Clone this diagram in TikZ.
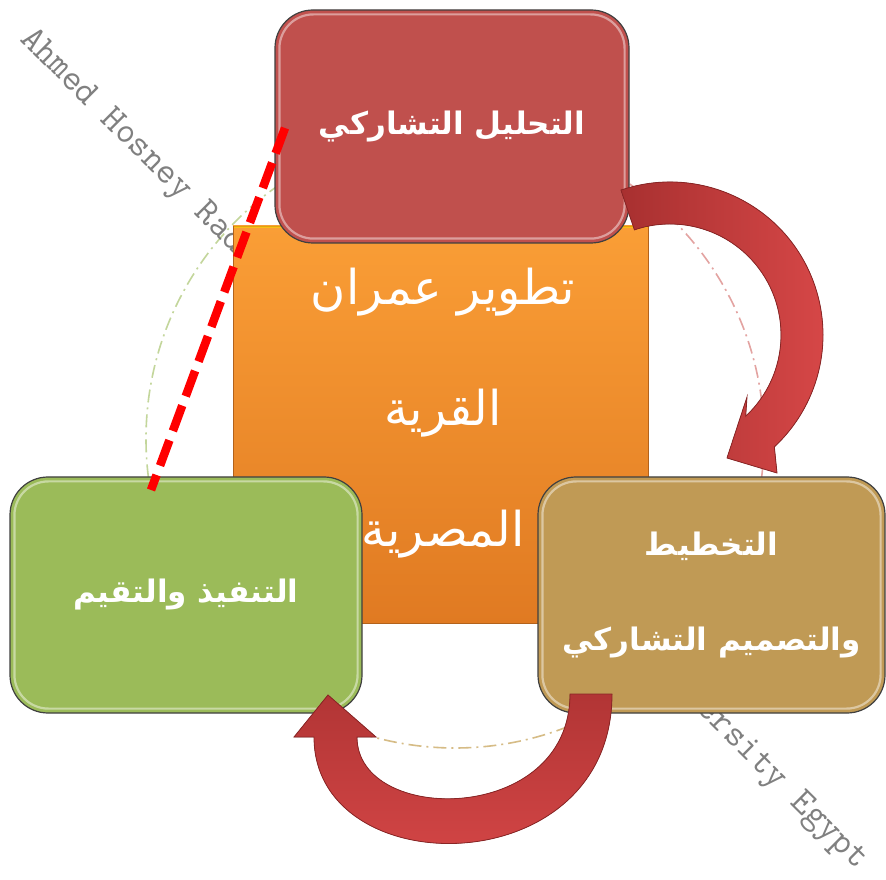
\documentclass[tikz,border=0pt]{standalone}
\usepackage{fontspec}
\newfontfamily\arabicfont[Script=Arabic]{DejaVu Sans}
\TeXXeTstate=1
\usetikzlibrary{calc}
\definecolor{boxred}{HTML}{C0504D}
\definecolor{boxgreen}{HTML}{9BBB59}
\definecolor{boxgold}{HTML}{C09A55}
\definecolor{orangetop}{HTML}{FA9E36}
\definecolor{orangebot}{HTML}{E07A22}
\definecolor{arrowdark}{HTML}{A83030}
\definecolor{arrowlight}{HTML}{D84848}
\definecolor{arrowedge}{HTML}{8A2525}
\definecolor{circgreen}{HTML}{C3D69B}
\definecolor{circpink}{HTML}{E3A3A1}
\definecolor{circtan}{HTML}{D6BC86}
\definecolor{wmgray}{HTML}{808080}
\tikzset{
  cyclebox/.style={rectangle, rounded corners=38pt, draw=black!75, line width=1.2pt,
    text=white, align=center, inner sep=0pt},
  bevel/.style={draw=white, opacity=0.45, line width=2.2pt, rounded corners=34pt},
  labeltext/.style={font=\arabicfont\bfseries\fontsize{31}{95}\selectfont},
  circarc/.style={line width=1.6pt, dash pattern=on 13pt off 5pt on 2pt off 5pt},
  watermark/.style={text=wmgray, font=\ttfamily\fontsize{36.8}{37}\selectfont, rotate=-44.8, inner sep=0pt},
  bigarrow/.style={draw=arrowedge, line width=0.8pt},
  redDash/.style={draw=red, line width=8.5pt, dash pattern=on 27pt off 10pt}
}
\begin{document}
\begin{tikzpicture}[x=1pt,y=1pt]
\useasboundingbox[fill=white] (0,0) rectangle (886,879);
% faint dash-dot circle
\coordinate (cc) at (455,440);
\draw[circarc, circgreen] (cc) ++(92:309) arc[start angle=92, end angle=215, radius=309];
\draw[circarc, circpink] (cc) ++(88:309) arc[start angle=88, end angle=-35, radius=309];
\draw[circarc, circtan] (cc) ++(215:309) arc[start angle=215, end angle=325, radius=309];
% watermark
\node[watermark, anchor=base west] (wm1) at (19,839) {Ahmed Hosney Rad};
\node[watermark, anchor=base east] (wm2) at (857,9) {ersity Egypt};
% central square
\node[rectangle, draw=orangebot!80!black, line width=0.8pt, top color=orangetop, bottom color=orangebot,
  minimum width=415pt, minimum height=397pt, inner sep=0pt] (center) at (440.5,454.5) {};
\draw[draw=yellow!70!orange, opacity=0.6, line width=2pt] ([shift={(1,-1.5)}]center.north west) -- ([shift={(-1,-1.5)}]center.north east);
\node[text=white, align=center, font=\arabicfont\fontsize{48}{121}\selectfont] (centertext) at (443,466)
  {\beginR تطوير عمران\endR\\\beginR القرية\endR\\\beginR المصرية\endR};
% red box
\node[cyclebox, fill=boxred, minimum width=354pt, minimum height=233pt, labeltext] (analysis) at (452,752.5)
  {\beginR التحليل التشاركي\endR};
\draw[bevel] ([shift={(5,-5)}]analysis.north west) rectangle ([shift={(-5,5)}]analysis.south east);
% green box
\node[cyclebox, fill=boxgreen, minimum width=352pt, minimum height=236pt, labeltext] (execution) at (186,284)
  {\beginR التنفيذ والتقيم\endR};
\draw[bevel] ([shift={(5,-5)}]execution.north west) rectangle ([shift={(-5,5)}]execution.south east);
% gold box
\node[cyclebox, fill=boxgold, minimum width=347pt, minimum height=236pt, labeltext] (planning) at (711.5,284)
  {\beginR التخطيط\endR\\\beginR والتصميم التشاركي\endR};
\draw[bevel] ([shift={(5,-5)}]planning.north west) rectangle ([shift={(-5,5)}]planning.south east);
% arrow 1: analysis -> planning
\coordinate (a1c) at (670,544);
\filldraw[bigarrow, left color=arrowdark, right color=arrowlight, shift={(a1c)}]
  (108.7:153) arc[start angle=108.7, end angle=-47, radius=153]
  -- (107,-138) -- (57,-123) -- (77,-62) -- (-47:111)
  arc[start angle=-47, end angle=108.7, radius=111] -- cycle;
% arrow 2: planning -> execution
\filldraw[bigarrow, top color=arrowdark!80!arrowlight, bottom color=arrowlight]
  (612,185) .. controls (612,-6.5) and (314,-6.5) .. (314,142)
  -- (294,142) -- (328,184) -- (376,142) -- (357,142)
  .. controls (357,53.5) and (570,53.5) .. (570,185) -- cycle;
% dashed connector
\coordinate (d1) at (285,751);
\coordinate (d2) at (151,389);
\draw[redDash] (d1) -- (d2);
\end{tikzpicture}
\end{document}
